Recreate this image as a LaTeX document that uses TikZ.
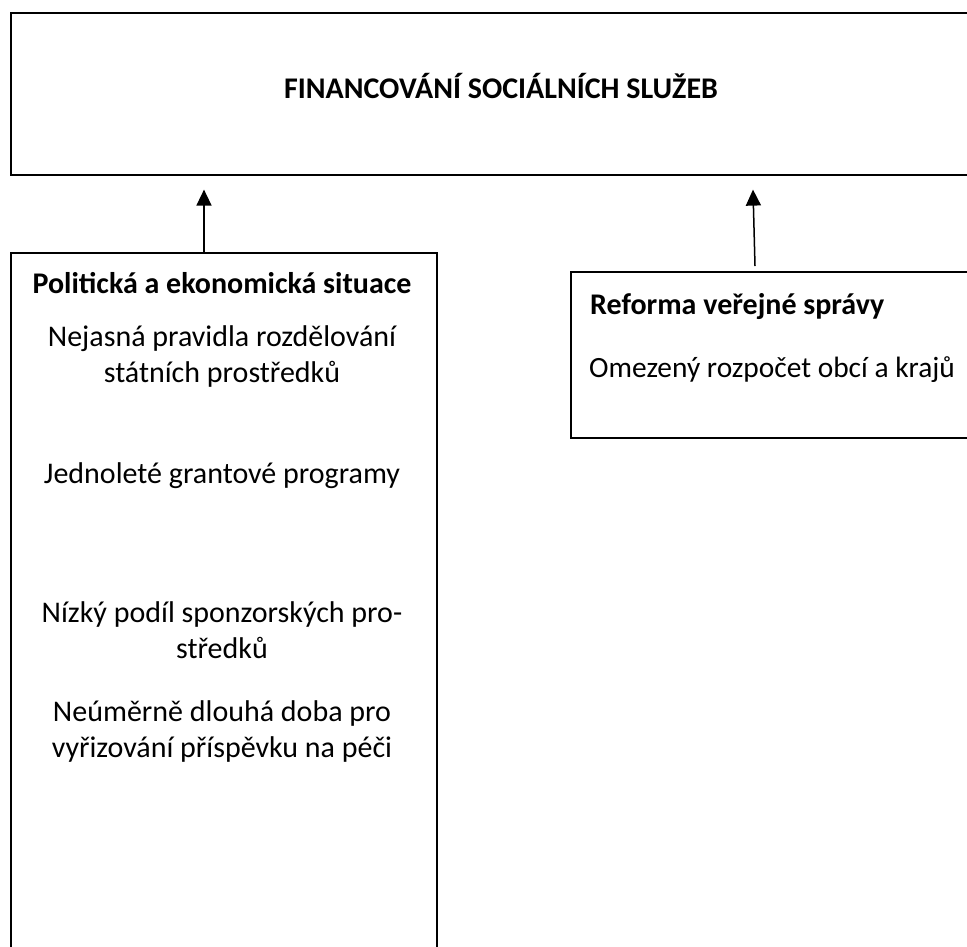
\documentclass[tikz,border=0pt]{standalone}
\usepackage{fontspec}
\setmainfont{Carlito}
\usetikzlibrary{arrows.meta,calc}
\begin{document}
\begin{tikzpicture}[x=1pt,y=-1pt,
  box/.style={draw,line width=1.6pt,inner sep=0pt,anchor=north west},
  body/.style={font=\fontsize{30}{36}\selectfont,align=center,inner sep=0pt},
  head/.style={font=\fontsize{30}{36}\selectfont\bfseries,inner sep=0pt},
  conn/.style={line width=1.5pt,-{Triangle[length=16pt,width=15pt]}}]
\useasboundingbox (0,0) rectangle (967,946);
\clip (0,0) rectangle (967,946);
% boxes
\node[box,minimum width=990pt,minimum height=162pt] (top) at (10,12) {};
\node[box,minimum width=426pt,minimum height=720pt] (left) at (10,252) {};
\node[box,minimum width=420pt,minimum height=166pt] (right) at (570,271) {};
% texts
\node[head] (title) at (501,86) {FINANCOVÁNÍ SOCIÁLNÍCH SLUŽEB};
\node[head] (lhead) at (222,283) {Politická a ekonomická situace};
\node[body] (l1) at (222,356) {Nejasná pravidla rozdělování\\státních prostředků};
\node[body] (l2) at (222,476) {Jednoleté grantové programy};
\node[body] (l3) at (222,630) {Nízký podíl sponzorských pro-\\středků};
\node[body] (l4) at (222,731) {Neúměrně dlouhá doba pro\\vyřizování příspěvku na péči};
\node[head,anchor=west] (rhead) at (590,307) {Reforma veřejné správy};
\node[body,anchor=west,font=\fontsize{29.4}{36}\selectfont] (r1) at (589,370) {Omezený rozpočet obcí a krajů};
% connectors
\coordinate (la) at ($(left.north west)+(194,0)$);
\coordinate (ra) at ($(right.north west)+(185,-5)$);
\draw[conn] (la) -- ($(la |- top.south)+(0,14)$);
\draw[conn] (ra) -- ($(ra |- top.south)+(-2,14)$);
\end{tikzpicture}
\end{document}
